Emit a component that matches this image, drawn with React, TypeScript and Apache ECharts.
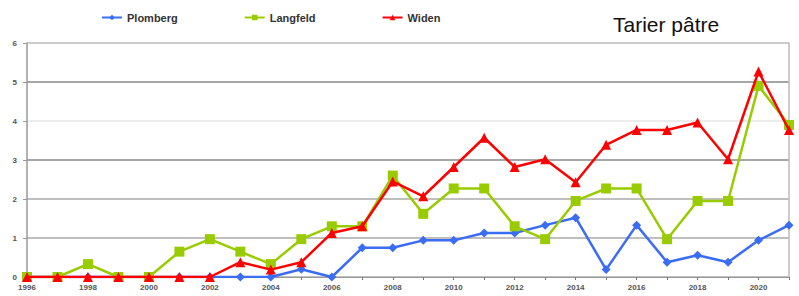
import React, { useEffect, useRef } from "react";
import * as echarts from "echarts";

const years = [
  "1996","1997","1998","1999","2000","2001","2002","2003","2004","2005","2006","2007","2008",
  "2009","2010","2011","2012","2013","2014","2015","2016","2017","2018","2019","2020","2021",
];
const plomberg = [0,0,0,0,0,0,0,0,0,0.2,0,0.75,0.75,0.94,0.94,1.13,1.13,1.33,1.52,0.19,1.33,0.38,0.56,0.38,0.94,1.33];
const langfeld = [0,0,0.33,0,0,0.65,0.97,0.65,0.33,0.97,1.3,1.3,2.6,1.62,2.27,2.27,1.3,0.97,1.95,2.27,2.27,0.97,1.95,1.95,4.9,3.9];
const widen = [0,0,0,0,0,0,0,0.38,0.19,0.38,1.13,1.3,2.45,2.07,2.82,3.57,2.82,3.02,2.43,3.39,3.77,3.77,3.96,3.02,5.27,3.77];
const yTicks = [0, 1, 2, 3, 4, 5, 6];

export default function App() {
  const ref = useRef<HTMLDivElement>(null);
  useEffect(() => {
    if (!ref.current) return;
    const chart = echarts.init(ref.current, null, { renderer: "svg" });
    const lbl = { fontFamily: "Arial, 'Liberation Sans', sans-serif", fontSize: 8, fontWeight: "bold" as const, color: "#555" };
    chart.setOption({
      animation: false,
      backgroundColor: "#fff",
      title: {
        text: "Tarier pâtre",
        left: 608,
        top: 9,
        textStyle: { fontFamily: "Arial, 'Liberation Sans', sans-serif", fontSize: 21, fontWeight: "normal", color: "#111" },
      },
      legend: {
        left: 96,
        top: 7,
        itemGap: 66,
        itemWidth: 20,
        itemHeight: 7,
        textStyle: { fontFamily: "Arial, 'Liberation Sans', sans-serif", fontSize: 11, fontWeight: "bold", color: "#333" },
        data: ["Plomberg", "Langfeld", "Widen"],
      },
      grid: { left: 27, right: 10, top: 43, bottom: 19 },
      xAxis: {
        type: "category",
        data: years,
        boundaryGap: false,
        axisLine: { show: true, lineStyle: { color: "#999", width: 1 } },
        axisTick: { show: true, interval: 0, length: 3, lineStyle: { color: "#777" } },
        axisLabel: { ...lbl, interval: 1, margin: 6 },
        splitLine: { show: false },
      },
      yAxis: [
        {
          type: "value",
          min: 0,
          max: 6,
          interval: 1,
          axisLine: { show: true, lineStyle: { color: "#999", width: 1.5 } },
          axisTick: { show: true, length: 4, lineStyle: { color: "#999" } },
          axisLabel: { ...lbl, margin: 10, formatter: (v: number) => (yTicks.includes(v) ? String(v) : "") },
          splitLine: {
            show: true,
            lineStyle: { color: ["#aaa", "#aaa", "#aaa", "#888", "#e6e6e6", "#888", "#bbb"], width: 1.5 },
          },
        },
        {
          type: "value",
          min: 0,
          max: 6,
          interval: 1,
          position: "right",
          axisLine: { show: true, lineStyle: { color: "#bbb", width: 1.5 } },
          axisTick: { show: false },
          axisLabel: { show: false },
          splitLine: { show: false },
        },
      ],
      series: [
        {
          name: "Plomberg",
          type: "line",
          data: plomberg,
          symbol: "diamond",
          symbolSize: 9,
          z: 1,
          itemStyle: { color: "#3a6cf4" },
          lineStyle: { width: 2.5, color: "#3a6cf4" },
        },
        {
          name: "Langfeld",
          type: "line",
          data: langfeld,
          symbol: "rect",
          symbolSize: 10,
          z: 2,
          itemStyle: { color: "#99cc00" },
          lineStyle: { width: 2.5, color: "#99cc00" },
        },
        {
          name: "Widen",
          type: "line",
          data: widen,
          symbol: "triangle",
          symbolSize: 10,
          z: 3,
          itemStyle: { color: "#ff0000" },
          lineStyle: { width: 2.5, color: "#ff0000" },
        },
      ],
    });
    return () => chart.dispose();
  }, []);
  return <div ref={ref} style={{ position: "absolute", left: 0, top: 0, width: 799, height: 296 }} />;
}
